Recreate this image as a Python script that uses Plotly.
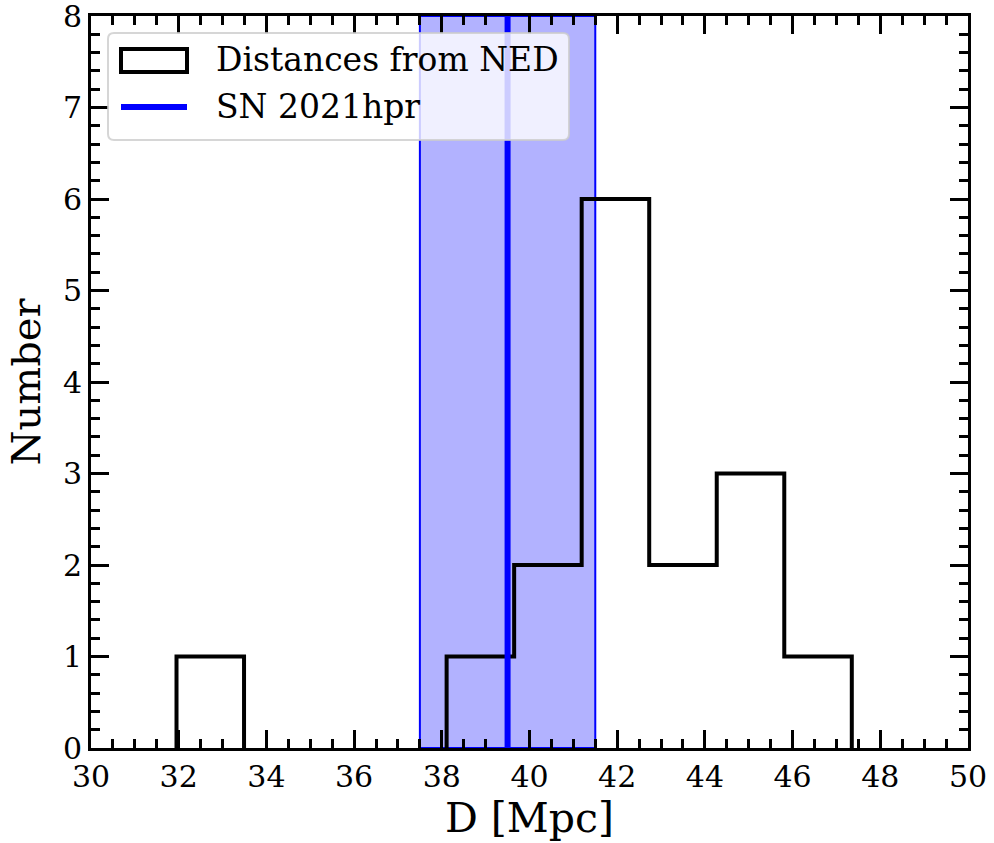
import plotly.graph_objects as go

# ---- data ----
bin_edges = [31.95, 33.49, 35.03, 36.57, 38.11, 39.65, 41.19, 42.73, 44.27, 45.81, 47.35]
counts = [1, 0, 0, 0, 1, 2, 6, 2, 3, 1]
sn_distance = 39.5
sn_error = 2.0
hist_label = "Distances from NED"
sn_label = "SN 2021hpr"
x_ticks = [30, 32, 34, 36, 38, 40, 42, 44, 46, 48, 50]
y_ticks = [0, 1, 2, 3, 4, 5, 6, 7, 8]

W, H = 994, 843
L, R, T, B = 91, 26, 16, 95
PW, PH = W - L - R, H - T - B
FONT = "DejaVu Serif"


def px(x):
    return (x - L) / PW


def py(y):
    return (H - B - y) / PH


# step outline vertices, with breaks where the outline runs along zero
pts = [(bin_edges[0], 0)]
for i, c in enumerate(counts):
    pts.append((bin_edges[i], c))
    pts.append((bin_edges[i + 1], c))
pts.append((bin_edges[-1], 0))
sx, sy = [pts[0][0]], [pts[0][1]]
for (xa, ya), (xb, yb) in zip(pts[:-1], pts[1:]):
    if ya == 0 and yb == 0:
        sx.append(None)
        sy.append(None)
    sx.append(xb)
    sy.append(yb)

fig = go.Figure()
fig.add_trace(go.Scatter(x=sx, y=sy, mode="lines", line=dict(color="black", width=4),
                         connectgaps=False, showlegend=False, hoverinfo="skip"))

# SN band and line
fig.add_shape(type="rect", xref="x", yref="paper", x0=sn_distance - sn_error, x1=sn_distance + sn_error,
              y0=0, y1=1, fillcolor="rgba(0,0,255,0.3)", line=dict(color="blue", width=2), layer="below")
fig.add_shape(type="line", xref="x", yref="paper", x0=sn_distance, x1=sn_distance, y0=0, y1=1,
              line=dict(color="blue", width=6), layer="above")

# manual legend
lx0, lx1, ly0, ly1, r = 108, 569, 33, 140, 6
path = (f"M {px(lx0 + r)},{py(ly0)} L {px(lx1 - r)},{py(ly0)} Q {px(lx1)},{py(ly0)} {px(lx1)},{py(ly0 + r)} "
        f"L {px(lx1)},{py(ly1 - r)} Q {px(lx1)},{py(ly1)} {px(lx1 - r)},{py(ly1)} "
        f"L {px(lx0 + r)},{py(ly1)} Q {px(lx0)},{py(ly1)} {px(lx0)},{py(ly1 - r)} "
        f"L {px(lx0)},{py(ly0 + r)} Q {px(lx0)},{py(ly0)} {px(lx0 + r)},{py(ly0)} Z")
fig.add_shape(type="path", xref="paper", yref="paper", path=path,
              fillcolor="rgba(255,255,255,0.8)", line=dict(color="rgba(204,204,204,0.8)", width=2), layer="above")
fig.add_shape(type="rect", xref="paper", yref="paper", x0=px(121), x1=px(187), y0=py(49), y1=py(72),
              fillcolor="white", line=dict(color="black", width=4), layer="above")
fig.add_shape(type="line", xref="paper", yref="paper", x0=px(121), x1=px(187), y0=py(107), y1=py(107),
              line=dict(color="blue", width=6), layer="above")
for label, yc in [(hist_label, 60), (sn_label, 107)]:
    fig.add_annotation(xref="paper", yref="paper", x=px(214), y=py(yc), text=label, showarrow=False,
                       xanchor="left", yanchor="middle", font=dict(family=FONT, size=33, color="black"))

axis_common = dict(
    showline=True, linecolor="black", linewidth=3, mirror="ticks",
    ticks="inside", ticklen=18, tickwidth=3, tickcolor="black",
    showgrid=False, zeroline=False, ticklabeloverflow="allow", automargin=False,
    tickfont=dict(family=FONT, size=30, color="black"),
)
fig.update_xaxes(range=[30, 50], tickvals=x_ticks, ticktext=[str(v) for v in x_ticks],
                 minor=dict(ticks="inside", ticklen=9, tickwidth=3, tickcolor="black", dtick=0.5),
                 title=dict(text="D [Mpc]", font=dict(family=FONT, size=41, color="black"), standoff=8),
                 **axis_common)
fig.update_yaxes(range=[0, 8.0005], tickvals=y_ticks, ticktext=[str(v) for v in y_ticks],
                 minor=dict(ticks="inside", ticklen=9, tickwidth=3, tickcolor="black", dtick=0.2),
                 title=dict(text="Number", font=dict(family=FONT, size=40, color="black"), standoff=10),
                 **axis_common)

fig.update_layout(width=W, height=H, margin=dict(l=L, r=R, t=T, b=B, autoexpand=False),
                  plot_bgcolor="white", paper_bgcolor="white", showlegend=False)

fig.write_html("out.html")
